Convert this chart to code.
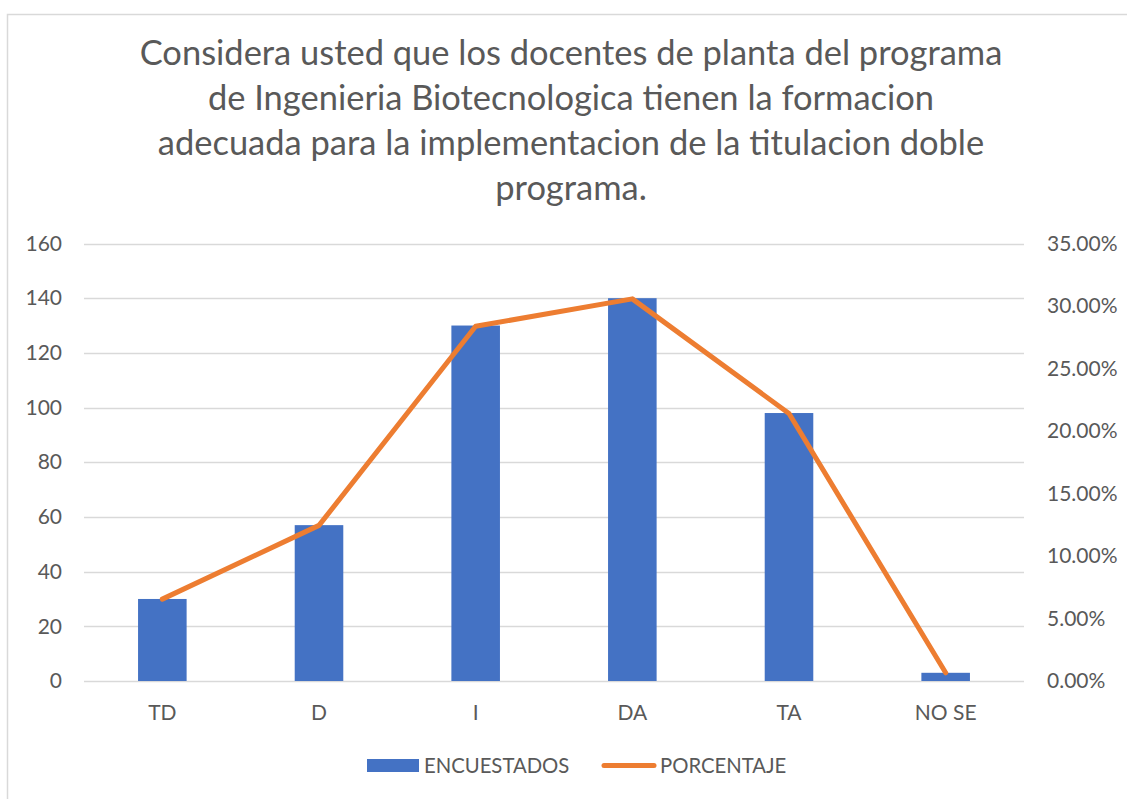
<!DOCTYPE html>
<html>
<head>
<meta charset="utf-8">
<script src="https://cdn.jsdelivr.net/npm/d3@7"></script>
<style>
  body { margin: 0; background: #fff; }
  text { font-family: Lato, 'Open Sans', sans-serif; fill: #595959; }
</style>
</head>
<body>
<div id="chart"></div>
<script>
// Data
let categories = ['TD', 'D', 'I', 'DA', 'TA', 'NO SE']
let encuestados = [30, 57, 130, 140, 98, 3]
let porcentaje = [0.0655, 0.1245, 0.2838, 0.3057, 0.214, 0.0066]
let leftTicks = [0, 20, 40, 60, 80, 100, 120, 140, 160]
let rightTicks = [0, 0.05, 0.1, 0.15, 0.2, 0.25, 0.3, 0.35]
let titleLines = [
  'Considera usted que los docentes de planta del programa',
  'de Ingenieria Biotecnologica tienen la formacion',
  'adecuada para la implementacion de la titulacion doble',
  'programa.'
]

var width = 1127
var height = 799
var margin = { top: 243.5, left: 84, right: 103, bottom: 118 }

var svg = d3
  .select('#chart')
  .append('svg')
  .attr('width', width)
  .attr('height', height)

// chart frame
svg
  .append('rect')
  .attr('x', 7.5)
  .attr('y', 14.5)
  .attr('width', 1200)
  .attr('height', 900)
  .attr('fill', 'none')
  .attr('stroke', '#d9d9d9')
  .attr('stroke-width', 1.5)

let xPositionScale = d3
  .scaleBand()
  .domain(categories)
  .range([margin.left, width - margin.right])
  .paddingInner(0.69)
  .paddingOuter(0.345)

let yPositionScale = d3
  .scaleLinear()
  .domain([0, 160])
  .range([height - margin.bottom, margin.top])

let yPctScale = d3
  .scaleLinear()
  .domain([0, 0.35])
  .range([height - margin.bottom, margin.top])

/* Title */
let title = svg
  .append('text')
  .attr('text-anchor', 'middle')
  .attr('font-size', 36)

title
  .selectAll('tspan')
  .data(titleLines)
  .enter()
  .append('tspan')
  .attr('x', 571)
  .attr('y', (d, i) => 65 + i * 45)
  .text(d => d)

// fit the longest line to the width seen in the picture
let firstWidth = title.select('tspan').node().getComputedTextLength()
title.attr('font-size', 36 * 863 / firstWidth)

/* Gridlines */
svg
  .append('g')
  .attr('class', 'grid')
  .selectAll('line')
  .data(leftTicks)
  .enter()
  .append('line')
  .attr('x1', margin.left)
  .attr('x2', width - margin.right)
  .attr('y1', d => Math.round(yPositionScale(d)) + 0.5)
  .attr('y2', d => Math.round(yPositionScale(d)) + 0.5)
  .attr('stroke', '#d9d9d9')
  .attr('stroke-width', 1.5)

/* Axes */
var yAxis = d3
  .axisLeft(yPositionScale)
  .tickValues(leftTicks)
  .tickSize(0)
  .tickPadding(22)
svg
  .append('g')
  .attr('class', 'axis y-axis')
  .attr('transform', `translate(${margin.left},0)`)
  .call(yAxis)

var yAxisRight = d3
  .axisRight(yPctScale)
  .tickValues(rightTicks)
  .tickFormat(d3.format('.2%'))
  .tickSize(0)
  .tickPadding(23)
svg
  .append('g')
  .attr('class', 'axis y-axis-right')
  .attr('transform', `translate(${width - margin.right},0)`)
  .call(yAxisRight)

var xAxis = d3
  .axisBottom(xPositionScale)
  .tickSize(0)
  .tickPadding(24)
svg
  .append('g')
  .attr('class', 'axis x-axis')
  .attr('transform', `translate(0,${height - margin.bottom})`)
  .call(xAxis)

svg.selectAll('.axis .domain').remove()
svg
  .selectAll('.axis text')
  .attr('font-family', null)
  .attr('fill', '#595959')
  .attr('font-size', 21)

/* Bars */
svg
  .selectAll('.bar')
  .data(categories)
  .enter()
  .append('rect')
  .attr('class', 'bar')
  .attr('x', d => xPositionScale(d))
  .attr('width', xPositionScale.bandwidth())
  .attr('y', (d, i) => yPositionScale(encuestados[i]))
  .attr('height', (d, i) => yPositionScale(0) - yPositionScale(encuestados[i]))
  .attr('fill', '#4472c4')

/* Line */
let line = d3
  .line()
  .x(d => xPositionScale(d.cat) + xPositionScale.bandwidth() / 2)
  .y(d => yPctScale(d.pct))

svg
  .append('path')
  .datum(categories.map((c, i) => ({ cat: c, pct: porcentaje[i] })))
  .attr('d', line)
  .attr('fill', 'none')
  .attr('stroke', '#ed7d31')
  .attr('stroke-width', 5)
  .attr('stroke-linejoin', 'round')
  .attr('stroke-linecap', 'round')

/* Legend */
let legend = svg.append('g').attr('class', 'legend')

legend
  .append('rect')
  .attr('x', 367)
  .attr('y', 759)
  .attr('width', 52)
  .attr('height', 13)
  .attr('fill', '#4472c4')

legend
  .append('text')
  .attr('x', 424)
  .attr('y', 772.5)
  .attr('font-size', 20.3)
  .text('ENCUESTADOS')

legend
  .append('line')
  .attr('x1', 604)
  .attr('x2', 654)
  .attr('y1', 765.5)
  .attr('y2', 765.5)
  .attr('stroke', '#ed7d31')
  .attr('stroke-width', 5)
  .attr('stroke-linecap', 'round')

legend
  .append('text')
  .attr('x', 660)
  .attr('y', 772.5)
  .attr('font-size', 20.3)
  .text('PORCENTAJE')
</script>
</body>
</html>
